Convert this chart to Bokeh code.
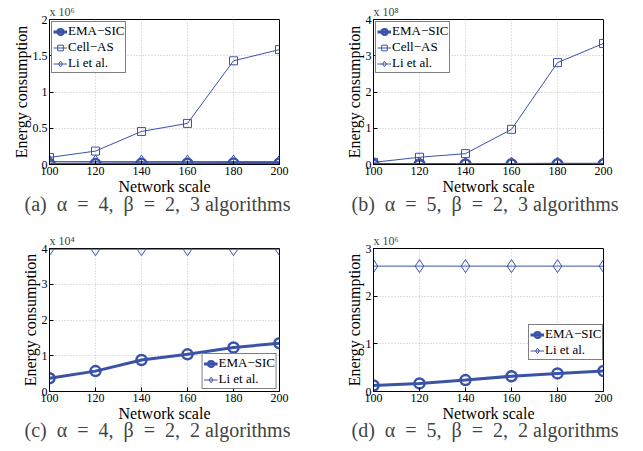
import numpy as np
from bokeh.plotting import figure
from bokeh.layouts import gridplot
from bokeh.models import Range1d, FixedTicker, Legend, LegendItem, Title
from bokeh.embed import file_html
from bokeh.resources import INLINE

# ---------------- data ----------------
scale = [100, 120, 140, 160, 180, 200]

# (a) alpha=4, beta=2, 3 algorithms  (axis shown x10^6)
a_ema = [0.0037e6, 0.0059e6, 0.0089e6, 0.0104e6, 0.0123e6, 0.0135e6]
a_cell = [0.097e6, 0.185e6, 0.456e6, 0.567e6, 1.43e6, 1.585e6]
a_li = [0.0398e6, 0.0398e6, 0.0398e6, 0.0398e6, 0.0398e6, 0.0398e6]

# (b) alpha=5, beta=2, 3 algorithms (axis shown x10^8)
b_ema = [0.0013e8, 0.0017e8, 0.0024e8, 0.0032e8, 0.0038e8, 0.0043e8]
b_cell = [0.06e8, 0.20e8, 0.30e8, 0.97e8, 2.81e8, 3.34e8]
b_li = [0.0263e8, 0.0263e8, 0.0263e8, 0.0263e8, 0.0263e8, 0.0263e8]

# (c) alpha=4, beta=2, 2 algorithms (axis shown x10^4)
c_ema = [0.37e4, 0.57e4, 0.88e4, 1.04e4, 1.23e4, 1.35e4]
c_li = [3.98e4, 3.98e4, 3.98e4, 3.98e4, 3.98e4, 3.98e4]

# (d) alpha=5, beta=2, 2 algorithms (axis shown x10^6)
d_ema = [0.125e6, 0.17e6, 0.24e6, 0.32e6, 0.38e6, 0.43e6]
d_li = [2.63e6, 2.63e6, 2.63e6, 2.63e6, 2.63e6, 2.63e6]

x_ticks = [100, 120, 140, 160, 180, 200]
EN = "\u2002"
captions = [
    "(a)" + EN + "\u03b1" + EN + "=" + EN + "4," + EN + "\u03b2" + EN + "=" + EN + "2," + EN + "3 algorithms",
    "(b)" + EN + "\u03b1" + EN + "=" + EN + "5," + EN + "\u03b2" + EN + "=" + EN + "2," + EN + "3 algorithms",
    "(c)" + EN + "\u03b1" + EN + "=" + EN + "4," + EN + "\u03b2" + EN + "=" + EN + "2," + EN + "2 algorithms",
    "(d)" + EN + "\u03b1" + EN + "=" + EN + "5," + EN + "\u03b2" + EN + "=" + EN + "2," + EN + "2 algorithms",
]
exponents = ["x 10\u2076", "x 10\u2078", "x 10\u2074", "x 10\u2076"]

BLUE = "#3a53a6"
SERIF = "Liberation Serif"


def fmt(v):
    return "%g" % v


def make_panel(ema, cell, li, factor, exp, ymax, yticks, caption, size, borders,
               legend_pos, cap_offset, cap_standoff):
    w, h = size
    left, right, top, bottom = borders
    p = figure(width=w, height=h, output_backend="svg", toolbar_location=None,
               title=None,
               x_range=Range1d(100, 200), y_range=Range1d(0, ymax),
               min_border_left=left, min_border_right=right,
               min_border_top=top, min_border_bottom=bottom)
    p.background_fill_color = "white"
    p.border_fill_color = "white"
    p.outline_line_color = "black"
    p.outline_line_width = 1

    for ax in (p.xaxis, p.yaxis):
        ax.major_tick_in = 4
        ax.major_tick_out = 0
        ax.minor_tick_line_color = None
        ax.axis_line_color = "black"
        ax.major_tick_line_color = "black"
        ax.major_label_text_font = SERIF
        ax.major_label_text_font_size = "12px"
        ax.major_label_text_color = "black"
        ax.axis_label_text_font = SERIF
        ax.axis_label_text_font_size = "16px"
        ax.axis_label_text_font_style = "normal"
        ax.axis_label_text_color = "black"
        ax.major_label_standoff = 2
        ax.axis_label_standoff = 0

    p.xaxis.ticker = FixedTicker(ticks=x_ticks)
    p.yaxis.ticker = FixedTicker(ticks=yticks)
    p.yaxis.major_label_overrides = {t: fmt(t) for t in yticks}
    p.xaxis.axis_label = "Network scale"
    p.yaxis.axis_label = "Energy consumption"

    p.grid.grid_line_color = "#c0c0c0"
    p.grid.grid_line_dash = "1 2"
    p.grid.grid_line_width = 1

    items = []
    y_ema = np.array(ema) / factor
    r1 = p.line(scale, y_ema, line_color=BLUE, line_width=3)
    r2 = p.scatter(scale, y_ema, marker="circle", size=10, line_color=BLUE,
                   line_width=2.5, fill_color=None)
    items.append(LegendItem(label="EMA\u2212SIC", renderers=[r1, r2]))
    if cell is not None:
        y_cell = np.array(cell) / factor
        r3 = p.line(scale, y_cell, line_color=BLUE, line_width=1)
        r4 = p.scatter(scale, y_cell, marker="square", size=8, line_color=BLUE,
                       line_width=1, fill_color=None)
        items.append(LegendItem(label="Cell\u2212AS", renderers=[r3, r4]))
    y_li = np.array(li) / factor
    r5 = p.line(scale, y_li, line_color=BLUE, line_width=1)
    r6 = p.scatter(scale, y_li, marker="diamond", size=13,
                   line_color=BLUE, line_width=1, fill_color=None)
    items.append(LegendItem(label="Li et al.", renderers=[r5, r6]))

    leg = Legend(items=items, location=legend_pos,
                 label_text_font=SERIF, label_text_font_size="13px",
                 label_text_color="black",
                 label_height=15, glyph_height=15, glyph_width=14,
                 label_standoff=1, spacing=0, padding=1, margin=2,
                 border_line_color="black", border_line_width=1,
                 background_fill_alpha=1)
    p.add_layout(leg)

    # exponent marker above the frame
    p.add_layout(Title(text=exp, text_font=SERIF, text_font_size="12px",
                       text_font_style="normal", align="left", standoff=1,
                       offset=0), "above")
    # caption below the x axis
    p.add_layout(Title(text=caption, text_font=SERIF, text_font_size="20px",
                       text_font_style="normal", align="left",
                       vertical_align="top",
                       standoff=cap_standoff, offset=cap_offset), "below")
    return p


pa = make_panel(a_ema, a_cell, a_li, 1e6, exponents[0], 2, [0, 0.5, 1, 1.5, 2],
                captions[0], (321, 225), (49, 42, 19, 61), "top_left", -25, -10)
pb = make_panel(b_ema, b_cell, b_li, 1e8, exponents[1], 4, [0, 1, 2, 3, 4],
                captions[1], (322, 225), (52, 40, 19, 61), "top_left", -22, -10)
pc = make_panel(c_ema, None, c_li, 1e4, exponents[2], 4, [0, 1, 2, 3, 4],
                captions[2], (321, 226), (49, 42, 23, 60), "bottom_right", -25, -12)
pd = make_panel(d_ema, None, d_li, 1e6, exponents[3], 3, [0, 1, 2, 3],
                captions[3], (322, 226), (52, 40, 22, 60), (155, 31), -22, -12)

grid = gridplot([[pa, pb], [pc, pd]], toolbar_location=None)

open("out.html", "w").write(file_html(grid, INLINE))
